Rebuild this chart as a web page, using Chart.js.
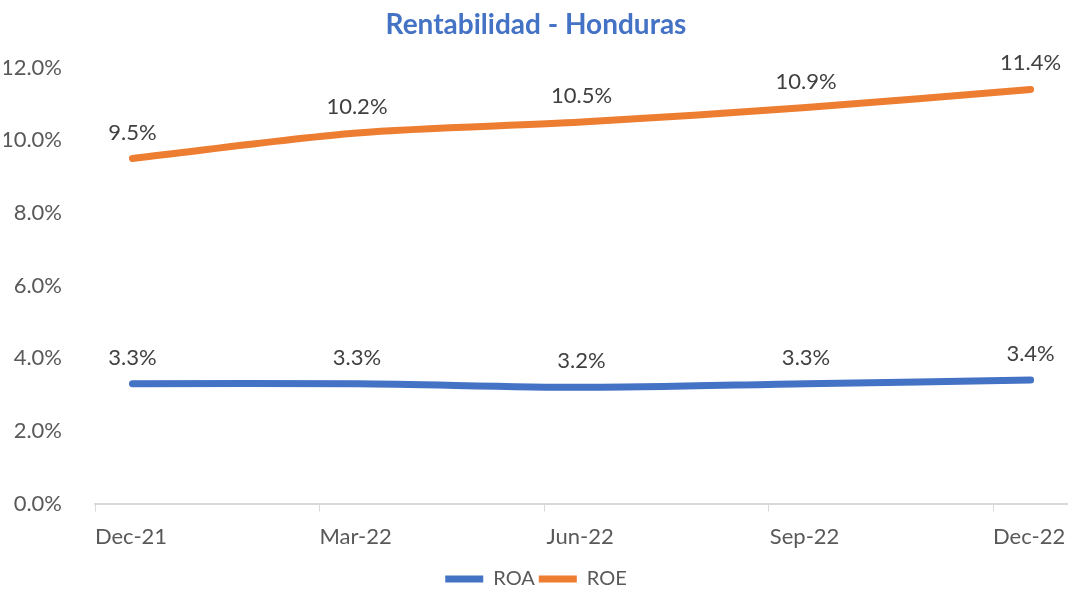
<!DOCTYPE html>
<html>
<head>
<meta charset="utf-8">
<script src="https://cdn.jsdelivr.net/npm/chart.js@4/dist/chart.umd.min.js"></script>
<style>
  html, body { margin: 0; padding: 0; background: #fff; }
  #wrap { width: 1068px; height: 589px; }
</style>
</head>
<body>
<div id="wrap"><canvas id="rentChart" width="1068" height="589"></canvas></div>
<script>
// -----------------------------------------
// Daten
// -----------------------------------------
const categories = ["Dec-21", "Mar-22", "Jun-22", "Sep-22", "Dec-22"];
const roaValues = [3.3, 3.3, 3.2, 3.3, 3.4];
const roeValues = [9.5, 10.2, 10.5, 10.9, 11.4];
const yTicks = [0, 2, 4, 6, 8, 10, 12];

// months since Dec-21, point sits in the middle of its month
function toPoints(values) {
    return values.map((v, i) => ({ x: i * 3 + 0.5, y: v }));
}

// -----------------------------------------
// Datenbeschriftungen
// -----------------------------------------
const valueLabels = {
    id: "valueLabels",
    afterDatasetsDraw(chart) {
        const ctx = chart.ctx;
        ctx.save();
        ctx.font = "22px Lato";
        ctx.fillStyle = "#404040";
        ctx.textAlign = "center";
        ctx.textBaseline = "middle";
        chart.data.datasets.forEach((ds, di) => {
            const meta = chart.getDatasetMeta(di);
            meta.data.forEach((pt, i) => {
                ctx.fillText(ds.data[i].y.toFixed(1) + "%", pt.x, pt.y - 26);
            });
        });
        ctx.restore();
    }
};

// -----------------------------------------
// Diagramm
// -----------------------------------------
const ctx = document.getElementById("rentChart").getContext("2d");

new Chart(ctx, {
    type: "line",
    data: {
        datasets: [{
            label: "ROA",
            data: toPoints(roaValues),
            borderColor: "#4472C4",
            backgroundColor: "#4472C4",
            borderWidth: 7,
            borderCapStyle: "round",
            tension: 0.3,
            pointRadius: 0
        }, {
            label: "ROE",
            data: toPoints(roeValues),
            borderColor: "#ED7D31",
            backgroundColor: "#ED7D31",
            borderWidth: 7,
            borderCapStyle: "round",
            tension: 0.3,
            pointRadius: 0
        }]
    },
    options: {
        responsive: false,
        animation: false,
        layout: { padding: { left: 4, right: 0, top: 4, bottom: -10 } },
        plugins: {
            title: {
                display: true,
                text: "Rentabilidad - Honduras",
                color: "#4472C4",
                font: { family: "Lato", size: 28, weight: "bold" },
                padding: { top: 4, bottom: 26 }
            },
            legend: {
                position: "bottom",
                labels: {
                    usePointStyle: true,
                    pointStyle: "line",
                    pointStyleWidth: 38,
                    color: "#595959",
                    font: { family: "Lato", size: 20 },
                    padding: 4
                }
            },
            tooltip: { enabled: false }
        },
        scales: {
            x: {
                type: "linear",
                min: 0,
                max: 13,
                grid: {
                    drawOnChartArea: false,
                    drawTicks: true,
                    tickLength: 8,
                    color: "#D9D9D9"
                },
                border: { color: "#D9D9D9", width: 2 },
                afterFit: (axis) => {
                    axis.height += 3;
                },
                ticks: {
                    stepSize: 3,
                    includeBounds: false,
                    labelOffset: 36,
                    padding: 12,
                    color: "#595959",
                    font: { family: "Lato", size: 22 },
                    maxRotation: 0,
                    callback: (v) => categories[v / 3]
                }
            },
            y: {
                min: 0,
                max: 12,
                grid: { display: false },
                border: { display: false },
                afterBuildTicks: (axis) => {
                    axis.ticks = yTicks.map(v => ({ value: v }));
                },
                afterFit: (axis) => {
                    axis.width = 91;
                },
                ticks: {
                    padding: 25,
                    color: "#595959",
                    font: { family: "Lato", size: 22 },
                    callback: (v) => v.toFixed(1) + "%"
                }
            }
        }
    },
    plugins: [valueLabels]
});
</script>
</body>
</html>
